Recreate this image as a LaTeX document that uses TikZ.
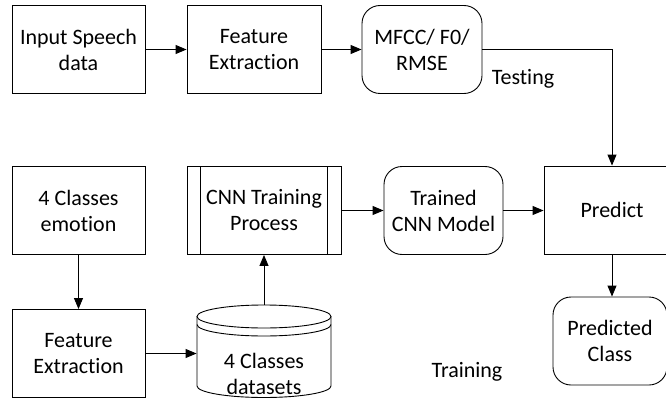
\documentclass[tikz,border=0pt]{standalone}
\usepackage{fontspec}
\setmainfont{Carlito}[Ligatures={NoCommon}]
\usetikzlibrary{arrows.meta,calc}
\begin{document}
\begin{tikzpicture}[x=1pt,y=-1pt,line width=0.9pt,
  font=\fontsize{22}{26}\selectfont,
  box/.style={draw,align=center,inner sep=0pt,minimum width=#1,minimum height=88pt},
  box/.default=133pt,
  rbox/.style={box=#1,rounded corners=18pt},
  rbox/.default=120pt,
  arr/.style={-{Triangle[length=11pt,width=9pt]}},
  lbl/.style={inner sep=0pt}]
\useasboundingbox (0,0) rectangle (666,401);

% testing path
\node[box] (inp) at (78.5,49.5) {Input Speech\\data};
\node[box=134pt] (fe1) at (254,49.5) {Feature\\Extraction};
\node[rbox] (mfcc) at (422,49.5) {MFCC/ F0/\\RMSE};
\node[lbl] (test) at (523,79) {Testing};

% training path
\node[box] (emo) at (78.5,210.5) {4 Classes\\emotion};
\node[box] (fe2) at (78.5,353.5) {Feature\\Extraction};
\node[box=154pt] (cnn) at (264,210.5) {CNN Training\\Process};
\draw ($(cnn.north west)+(14,0)$) -- ($(cnn.south west)+(14,0)$);
\draw ($(cnn.north east)+(-14,0)$) -- ($(cnn.south east)+(-14,0)$);
\node[rbox=119pt] (trained) at (443.5,210.5) {Trained\\CNN Model};
\node[box=136pt] (pred) at (612,210) {Predict};
\node[rbox=114pt] (pclass) at (610,341) {Predicted\\Class};
\node[lbl] (train) at (467,372) {Training};

% dataset store drawn as a cylinder with a doubled rim
\node[minimum width=134pt,minimum height=93pt,inner sep=0pt] (ds) at (264,351.5) {};
\node[align=center,inner sep=0pt] (dstext) at (264,373.5) {4 Classes\\datasets};
\draw (264,316.5) ellipse [x radius=67pt,y radius=11.5pt];
\draw (197,324.5) arc[start angle=180,end angle=360,x radius=67pt,y radius=11.5pt];
\draw (197,316.5) -- (197,386) arc[start angle=180,end angle=360,x radius=67pt,y radius=11.5pt] -- (331,316.5);

% connectors
\draw[arr] (inp) -- (fe1);
\draw[arr] (fe1) -- (mfcc);
\draw[arr] (mfcc.east) -| (pred.north);
\draw[arr] (emo) -- (fe2);
\draw[arr] (fe2.east) -- (fe2.east -| ds.west);
\draw[arr] (ds.north) -- (cnn.south);
\draw[arr] (cnn) -- (trained);
\draw[arr] (trained) -- (pred.west |- trained.east);
\draw[arr] (pred.south) -- (pred.south |- pclass.north);
\end{tikzpicture}
\end{document}
